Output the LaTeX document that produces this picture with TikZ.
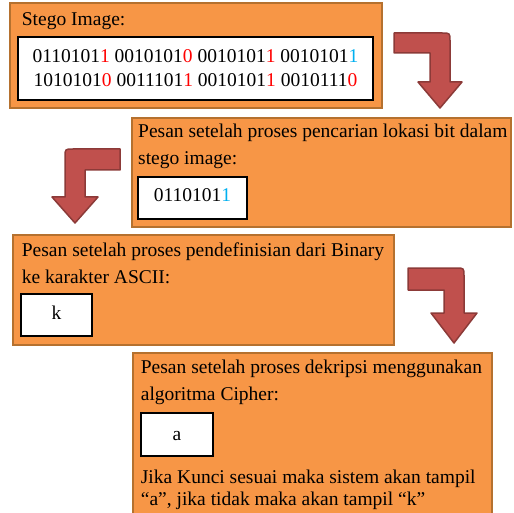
\documentclass[tikz,border=0pt]{standalone}
\usepackage{fontspec}
\setmainfont{Liberation Serif}
\definecolor{boxfill}{HTML}{F79646}
\definecolor{boxline}{HTML}{B5712F}
\definecolor{arrowfill}{HTML}{C0504D}
\definecolor{arrowline}{HTML}{8C3A38}
\definecolor{bitred}{HTML}{FF0000}
\definecolor{bitblue}{HTML}{00B0F0}
\newcommand{\rb}[1]{\textcolor{bitred}{#1}}
\newcommand{\bb}[1]{\textcolor{bitblue}{#1}}
\tikzset{
  panel/.style={draw=boxline, fill=boxfill, line width=2pt, inner sep=0pt},
  bitbox/.style={draw=black, fill=white, line width=2.5pt, inner sep=0pt},
  bendarrow/.style={draw=arrowline, fill=arrowfill, line width=1.5pt, line join=round},
  txt/.style={anchor=base west, inner sep=0pt, font=\fontsize{19.5}{24}\selectfont},
  mid/.style={anchor=base, inner sep=0pt, font=\fontsize{19.5}{24}\selectfont}
}

\begin{document}
\begin{tikzpicture}[x=1pt, y=-1pt]
    \useasboundingbox (0,0) rectangle (514,513);
    \node[panel, minimum width=372pt, minimum height=105pt] (stego) at (196,55.5) {};
    \node[bitbox, minimum width=355pt, minimum height=63pt] (stegobits) at (195.5,68.5) {};
    \node[txt] (stegotitle) at (21.7,26) {Stego Image:};
    \node[mid] (bitsA) at (195.5,63) {0110101\rb{1} 0010101\rb{0} 0010101\rb{1} 0010101\bb{1}};
    \node[mid] (bitsB) at (195.5,87) {1010101\rb{0} 0011101\rb{1} 0010101\rb{1} 0010111\rb{0}};

    \node[panel, minimum width=379pt, minimum height=109pt] (lokasi) at (321.5,172.5) {};
    \node[bitbox, minimum width=109pt, minimum height=42pt] (lokasibits) at (192.5,198) {};
    \node[txt] (lokasiA) at (138,138) {Pesan setelah proses pencarian lokasi bit dalam};
    \node[txt] (lokasiB) at (138,165) {stego image:};
    \node[mid] (lokasival) at (192.5,202) {0110101\bb{1}};

    \node[panel, minimum width=381pt, minimum height=110pt] (ascii) at (203.5,290) {};
    \node[bitbox, minimum width=71pt, minimum height=42pt] (asciibox) at (56.5,315) {};
    \node[txt] (asciiA) at (21.7,256.5) {Pesan setelah proses pendefinisian dari Binary};
    \node[txt] (asciiB) at (21.7,283) {ke karakter ASCII:};
    \node[mid] (asciival) at (56.5,319) {k};

    \node[panel, minimum width=359pt, minimum height=177pt] (dekripsi) at (312.5,441.5) {};
    \node[bitbox, minimum width=72pt, minimum height=43pt] (dekripsibox) at (177,434.5) {};
    \node[txt] (dekripsiA) at (140.7,373) {Pesan setelah proses dekripsi menggunakan};
    \node[txt] (dekripsiB) at (140.7,400) {algoritma Cipher:};
    \node[mid] (dekripsival) at (177,440) {a};
    \node[txt] (kunciA) at (140.7,483) {Jika Kunci sesuai maka sistem akan tampil};
    \node[txt] (kunciB) at (140.7,505) {“a”, jika tidak maka akan tampil “k”};

    \draw[bendarrow] (394,33) -- (442,33) .. controls (450,33) .. (450,41) -- (450,82) -- (462,82)
        -- (440,108) -- (418,82) -- (430,82) -- (430,53) -- (394,53) -- cycle;
    \draw[bendarrow] (120,149) -- (73,149) .. controls (65,149) .. (65,157) -- (65,197) -- (52,197)
        -- (75,223) -- (98,197) -- (85,197) -- (85,170) -- (120,170) -- cycle;
    \draw[bendarrow] (408,268) -- (456,268) .. controls (464,268) .. (464,276) -- (464,313) -- (477,313)
        -- (454,343) -- (431,313) -- (444,313) -- (444,290) -- (408,290) -- cycle;
\end{tikzpicture}
\end{document}
